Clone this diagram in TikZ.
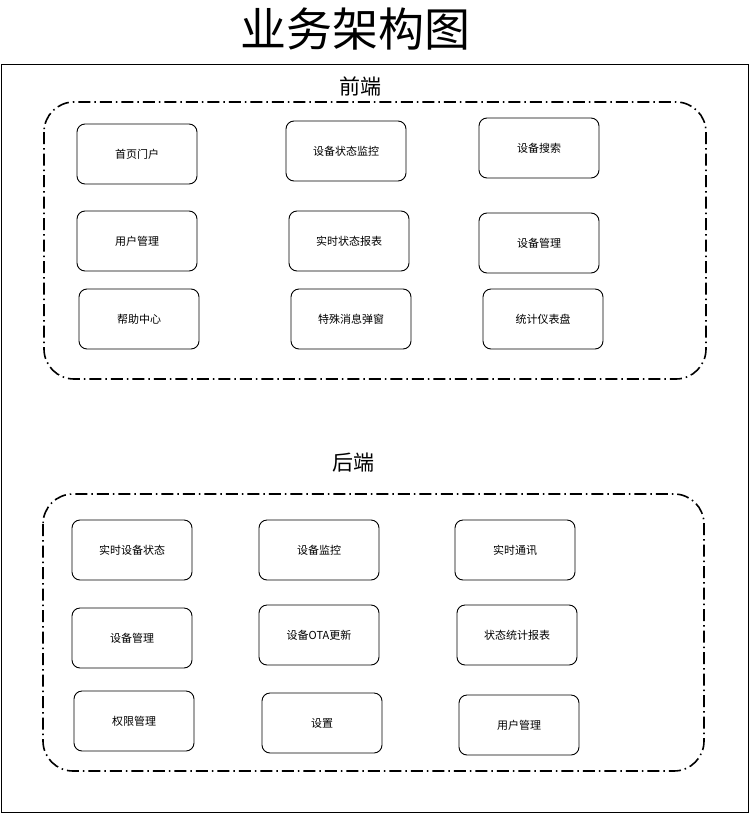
\documentclass[tikz,border=0pt]{standalone}
\usepackage{fontspec}
\setmainfont{Noto Sans CJK SC}
\usepackage{tikz}
\usetikzlibrary{shapes.geometric, arrows}
\tikzstyle{module} = [rectangle, rounded corners=8pt, minimum width=120pt, minimum height=60pt, text centered, draw=black, line width=0.9pt, font=\fontsize{11}{13}\selectfont]
\tikzstyle{layer} = [rounded corners=30pt, draw=black, line width=1.6pt, dash pattern=on 12pt off 4pt on 1.5pt off 4pt]
\tikzstyle{layertitle} = [font=\fontsize{21}{24}\selectfont]

\begin{document}
\begin{tikzpicture}[x=1pt, y=-1pt]
   \useasboundingbox (0,0) rectangle (750,814);
   \node (title) at (355,29) {\fontsize{46}{52}\selectfont 业务架构图};
   \draw [line width=1pt] (1,64) rectangle (748,812);
   % 前端
   \node (fe) [layertitle] at (360,86) {前端};
   \draw [layer] (44,102) rectangle (706,379);
   \node (fe1) [module] at (137,154) {首页门户};
   \node (fe2) [module] at (346,151) {设备状态监控};
   \node (fe3) [module] at (539,148) {设备搜索};
   \node (fe4) [module] at (137,241) {用户管理};
   \node (fe5) [module] at (349,241) {实时状态报表};
   \node (fe6) [module] at (539,243) {设备管理};
   \node (fe7) [module] at (139,319) {帮助中心};
   \node (fe8) [module] at (351,319) {特殊消息弹窗};
   \node (fe9) [module] at (543,319) {统计仪表盘};
   % 后端
   \node (be) [layertitle] at (353,463) {后端};
   \draw [layer] (43,494) rectangle (704,771);
   \node (be1) [module] at (132,550) {实时设备状态};
   \node (be2) [module] at (319,550) {设备监控};
   \node (be3) [module] at (515,550) {实时通讯};
   \node (be4) [module] at (132,638) {设备管理};
   \node (be5) [module] at (319,635) {设备OTA更新};
   \node (be6) [module] at (517,635) {状态统计报表};
   \node (be7) [module] at (134,721) {权限管理};
   \node (be8) [module] at (322,723) {设置};
   \node (be9) [module] at (519,725) {用户管理};
\end{tikzpicture}
\end{document}
